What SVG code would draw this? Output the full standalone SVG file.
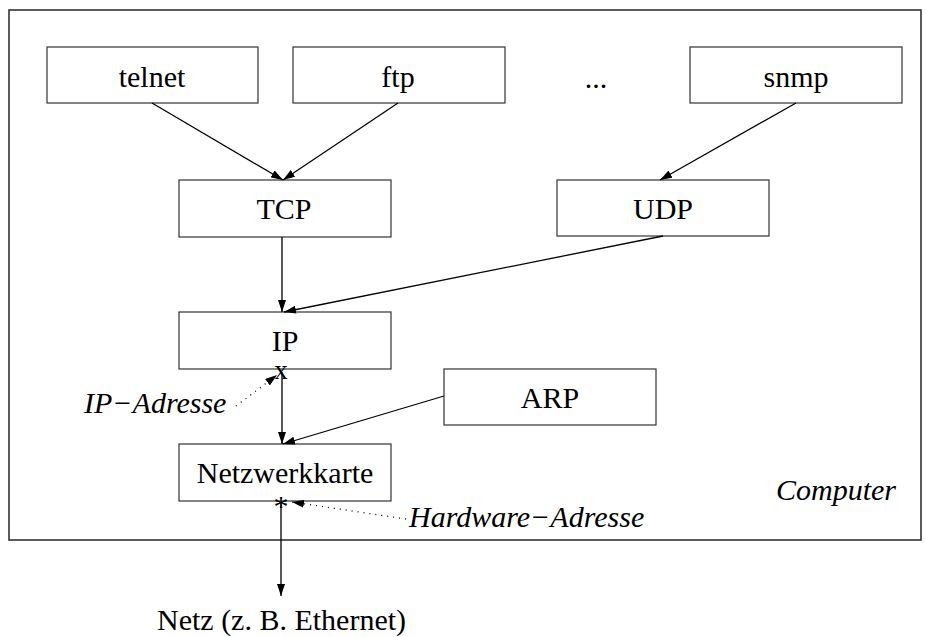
<svg xmlns="http://www.w3.org/2000/svg" width="926" height="637" viewBox="0 0 926 637">
  <style>
    .box { fill: #fff; stroke: #333; stroke-width: 1.2; }
    .frame { fill: none; stroke: #333; stroke-width: 1.6; }
    .lbl { font-family: "Liberation Serif", "Times New Roman", serif; font-size: 30px; fill: #000; }
    .mid { text-anchor: middle; }
    .it { font-style: italic; }
    .edge { stroke: #000; stroke-width: 1.3; fill: none; marker-end: url(#arrow); }
    .dot { stroke: #000; stroke-width: 1.3; fill: none; stroke-dasharray: 1 5; marker-end: url(#arrow); }
  </style>
  <defs>
    <marker id="arrow" viewBox="0 0 12 8" refX="12" refY="4" markerWidth="12" markerHeight="8" markerUnits="userSpaceOnUse" orient="auto">
      <path d="M0,0 L12,4 L0,8 z" fill="#000"/>
    </marker>
  </defs>

  <rect width="926" height="637" fill="#fff"/>

  <!-- host boundary -->
  <g id="computer">
    <rect class="frame" x="9" y="10" width="912" height="530"/>
    <text class="lbl it" x="776" y="500">Computer</text>
  </g>

  <g id="telnet">
    <rect class="box" x="47" y="47" width="211" height="56"/>
    <text class="lbl mid" x="152" y="87">telnet</text>
  </g>
  <g id="ftp">
    <rect class="box" x="293" y="47" width="212" height="56"/>
    <text class="lbl mid" x="398" y="87">ftp</text>
  </g>
  <g id="more">
    <text class="lbl mid" x="596" y="88">...</text>
  </g>
  <g id="snmp">
    <rect class="box" x="690" y="47" width="212" height="56"/>
    <text class="lbl mid" x="796" y="87">snmp</text>
  </g>
  <g id="tcp">
    <rect class="box" x="179" y="180" width="212" height="57"/>
    <text class="lbl mid" x="284" y="219">TCP</text>
  </g>
  <g id="udp">
    <rect class="box" x="557" y="180" width="212" height="56"/>
    <text class="lbl mid" x="663" y="219">UDP</text>
  </g>
  <g id="ip">
    <rect class="box" x="179" y="312" width="212" height="57"/>
    <text class="lbl mid" x="285" y="351">IP</text>
  </g>
  <g id="arp">
    <rect class="box" x="444" y="369" width="212" height="56"/>
    <text class="lbl mid" x="550" y="408">ARP</text>
  </g>
  <g id="netzwerkkarte">
    <rect class="box" x="179" y="444" width="212" height="57"/>
    <text class="lbl mid" x="285" y="483">Netzwerkkarte</text>
  </g>

  <!-- address markers and annotations -->
  <g id="ip-adresse">
    <text class="lbl mid" x="281" y="379" style="font-size:27px">x</text>
    <text class="lbl it" x="84" y="413">IP−Adresse</text>
  </g>
  <g id="hardware-adresse">
    <text class="lbl mid" x="281" y="516" style="font-size:30px">*</text>
    <text class="lbl it" x="409" y="527">Hardware−Adresse</text>
  </g>
  <g id="netz">
    <text class="lbl" x="157" y="630">Netz (z. B. Ethernet)</text>
  </g>

  <g id="connectors">
    <line class="edge" x1="152" y1="103" x2="283" y2="180"/>
    <line class="edge" x1="398" y1="103" x2="283" y2="180"/>
    <line class="edge" x1="796" y1="103" x2="660" y2="180"/>
    <line class="edge" x1="282" y1="237" x2="282" y2="312"/>
    <line class="edge" x1="663" y1="236" x2="284" y2="312"/>
    <line class="edge" x1="282" y1="372" x2="282" y2="444"/>
    <line class="edge" x1="444" y1="396" x2="283" y2="444"/>
    <line class="edge" x1="281" y1="503" x2="281" y2="596"/>
    <line class="dot" x1="236" y1="406" x2="277" y2="375"/>
    <line class="dot" x1="406" y1="519" x2="292" y2="502"/>
  </g>
</svg>
